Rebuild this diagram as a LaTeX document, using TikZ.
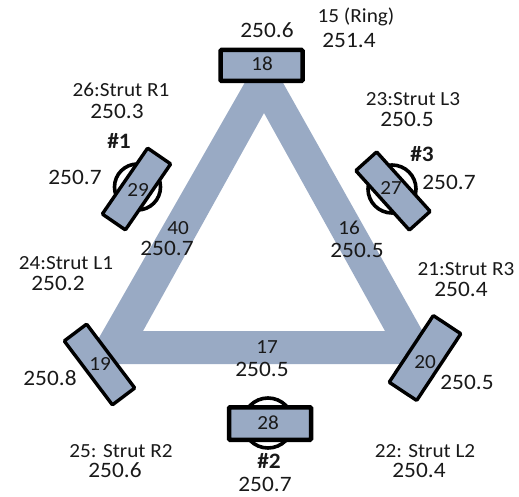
\documentclass[tikz,border=0pt]{standalone}
\usepackage{fontspec}
\setmainfont[FakeStretch=1.06]{Carlito}
\usepackage{xcolor}
\definecolor{azul}{RGB}{153, 170, 196}
\tikzset{
  bloco/.style={draw=black, fill=azul, line width=3.4pt, rounded corners=1pt, minimum width=80pt, minimum height=28pt, inner sep=0pt},
  blocoH/.style={bloco, line width=4.5pt, minimum width=82pt, minimum height=31pt},
  anel/.style={circle, draw=black, fill=white, line width=3.6pt, minimum size=46pt, inner sep=0pt},
  rotulo/.style={font=\fontsize{20}{20}\selectfont, text=black!90, inner sep=0pt},
  valor/.style={font=\fontsize{22}{22}\selectfont, text=black!90, inner sep=0pt},
  numero/.style={font=\fontsize{22}{22}\bfseries\selectfont, text=black!90, inner sep=0pt},
  marca/.style={font=\fontsize{20}{20}\selectfont, text=black!90, inner sep=0pt},
}
\begin{document}
\begin{tikzpicture}[x=1pt, y=-1pt]
  \useasboundingbox (0,0) rectangle (519,497);

  % frame
  \fill[azul, even odd rule] (264,49) -- (441,364) -- (84,364) -- cycle
    (264,113) -- (385,331) -- (143,331) -- cycle;

  % rings
  \node[anel] (ring1) at (137.5,187) {};
  \node[anel, minimum size=48pt] (ring3) at (392,189) {};
  \node[anel, minimum size=50pt] (ring2) at (268,423) {};

  % blocks
  \node[blocoH] (b18) at (261.5,65.5) {};
  \node[blocoH, minimum height=32.5pt] (b28) at (270,423.5) {};
  \node[bloco, rotate=-53] (b19) at (99.5,364.5) {};
  \node[bloco, rotate=56.5, minimum height=33pt] (b20) at (425,358) {};
  \node[bloco, rotate=55.5] (b29) at (136.5,189) {};
  \node[bloco, rotate=-48] (b27) at (393,191) {};

  % block numbers
  \node[marca] (m18) at (262,64) {18};
  \node[marca] (m28) at (268,423) {28};
  \node[marca] (m19) at (100,364) {19};
  \node[marca] (m20) at (425,362) {20};
  \node[marca] (m29) at (138,190) {29};
  \node[marca] (m27) at (391,188) {27};

  % labels
  \node[valor] (v18) at (267,30) {250.6};
  \node[rotulo] (t15) at (356,17) {15 (Ring)};
  \node[valor] (v15) at (349,40) {251.4};
  \node[rotulo] (t26) at (121,90) {26:Strut R1};
  \node[valor] (v26) at (117,111) {250.3};
  \node[numero] (n1) at (119,141) {\#1};
  \node[valor] (v29) at (75,177) {250.7};
  \node[rotulo] (t23) at (413,99) {23:Strut L3};
  \node[valor] (v23) at (407,119) {250.5};
  \node[numero] (n3) at (422,154) {\#3};
  \node[valor] (v27) at (449,182) {250.7};
  \node[rotulo] (t40) at (178,228) {40};
  \node[valor] (v40) at (167,248) {250.7};
  \node[rotulo] (t16) at (349,228) {16};
  \node[valor] (v16) at (357,250) {250.5};
  \node[rotulo] (t24) at (66,263) {24:Strut L1};
  \node[valor] (v24) at (58,283) {250.2};
  \node[rotulo] (t21) at (466,269) {21:Strut R3};
  \node[valor] (v21) at (461,289) {250.4};
  \node[rotulo] (t17) at (267,347) {17};
  \node[valor] (v17) at (262,369) {250.5};
  \node[valor] (v19) at (50,378) {250.8};
  \node[valor] (v20) at (467,382) {250.5};
  \node[rotulo] (t25) at (121,451) {25: Strut R2};
  \node[valor] (v25) at (115,470) {250.6};
  \node[rotulo] (t22) at (425,451) {22: Strut L2};
  \node[valor] (v22) at (419,470) {250.4};
  \node[numero] (n2) at (269,461) {\#2};
  \node[valor] (v28) at (265,484) {250.7};
\end{tikzpicture}
\end{document}
